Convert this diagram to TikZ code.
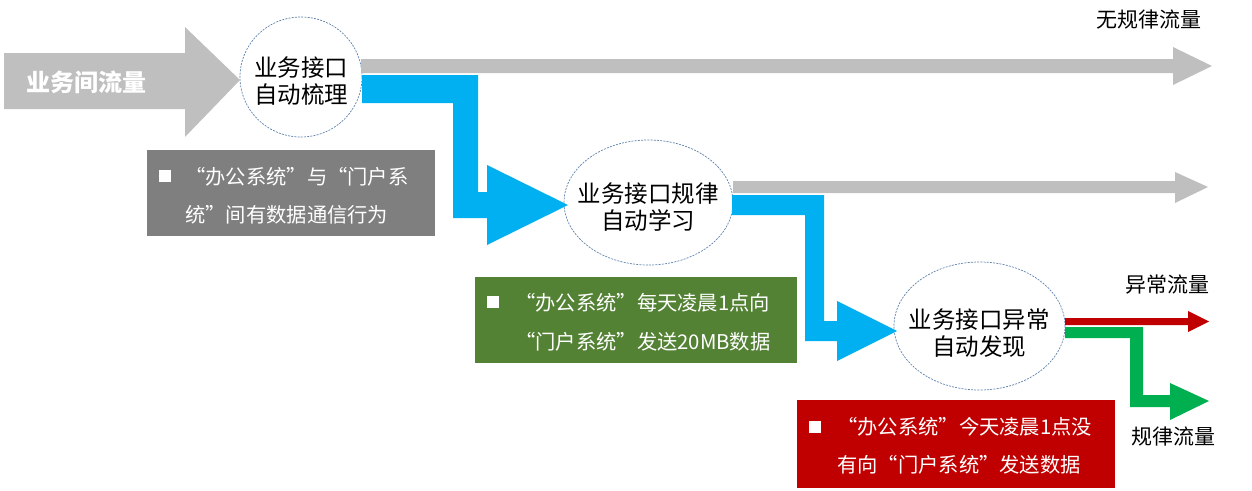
\documentclass[tikz,border=0pt]{standalone}
\usepackage{fontspec}
\setmainfont{Noto Sans CJK SC}
\usetikzlibrary{shapes.geometric}
\definecolor{flowgray}{HTML}{BFBFBF}
\definecolor{flowblue}{HTML}{00B0F0}
\definecolor{flowred}{HTML}{C00000}
\definecolor{flowgreen}{HTML}{00B050}
\definecolor{boxgray}{HTML}{7F7F7F}
\definecolor{boxgreen}{HTML}{548235}
\definecolor{boxred}{HTML}{C00000}
\definecolor{ellline}{HTML}{5F82AC}
\begin{document}
\begin{tikzpicture}[x=1pt,y=-1pt,
  ellnode/.style={ellipse, draw=ellline, dash pattern=on 2pt off 1.2pt, line width=0.7pt, fill=white, inner sep=0pt},
  elltext/.style={align=center, font=\fontsize{23.5}{27}\selectfont, text=black, inner sep=0pt},
  infobox/.style={draw=none, inner sep=0pt},
  bulletsq/.style={fill=white, minimum width=12pt, minimum height=12pt, inner sep=0pt},
  boxtext/.style={anchor=west, text=white, font=\fontsize{20.3}{22}\selectfont, inner sep=0pt},
  outlabel/.style={text=black, font=\fontsize{21}{24}\selectfont, inner sep=0pt}
]
\useasboundingbox (0,0) rectangle (1252,490);

% ellipses
\node[ellnode, minimum width=122pt, minimum height=120pt] (e1) at (301,77) {};
\node[ellnode, minimum width=169pt, minimum height=125pt] (e2) at (648.5,202.5) {};
\node[ellnode, minimum width=171pt, minimum height=128pt] (e3) at (979.5,326) {};

% big input arrow
\fill[flowgray] (4,53) -- (185,53) -- (185,27) -- (240,80) -- (185,137) -- (185,109) -- (4,109) -- cycle;
\node[text=white, font=\bfseries\fontsize{24}{28}\selectfont, inner sep=0pt] (in) at (87,82) {业务间流量};

% gray arrows
\fill[flowgray] (361,59) -- (1173,59) -- (1173,47) -- (1212,66) -- (1173,85) -- (1173,73) -- (361,73) -- cycle;
\fill[flowgray] (733,181) -- (1175,181) -- (1175,172) -- (1208,187) -- (1175,203) -- (1175,193) -- (733,193) -- cycle;

% blue arrows
\fill[flowblue] (362,75) -- (478,75) -- (478,192) -- (487,192) -- (487,165) -- (568,205) -- (487,245) -- (487,218) -- (453,218) -- (453,103) -- (362,103) -- cycle;
\fill[flowblue] (732,195) -- (824,195) -- (824,321) -- (837,321) -- (837,301) -- (897,331) -- (837,361) -- (837,341) -- (805,341) -- (805,215) -- (732,215) -- cycle;

% red and green arrows
\fill[flowred] (1065,318) -- (1188,318) -- (1188,311) -- (1209,321.5) -- (1188,332) -- (1188,325) -- (1065,325) -- cycle;
\fill[flowgreen] (1065,327) -- (1143,327) -- (1143,395) -- (1170,395) -- (1170,383) -- (1209,401) -- (1170,420) -- (1170,407) -- (1130,407) -- (1130,338) -- (1065,338) -- cycle;

% ellipse texts
\node[elltext] (t1) at (301,81) {业务接口\\自动梳理};
\node[elltext] (t2) at (648,207) {业务接口规律\\自动学习};
\node[elltext] (t3) at (979,333) {业务接口异常\\自动发现};

% info boxes
\node[infobox, fill=boxgray, minimum width=288pt, minimum height=86pt] (b1) at (291,193) {};
\node[bulletsq] (s1) at (165,176) {};
\node[boxtext] (b1a) at (185,177) {“办公系统”与“门户系};
\node[boxtext] (b1b) at (185,215) {统”间有数据通信行为};

\node[infobox, fill=boxgreen, minimum width=322pt, minimum height=86pt] (b2) at (636,320) {};
\node[bulletsq] (s2) at (493,302) {};
\node[boxtext] (b2a) at (515,303) {“办公系统”每天凌晨1点向};
\node[boxtext] (b2b) at (515,342) {“门户系统”发送20MB数据};

\node[infobox, fill=boxred, minimum width=318pt, minimum height=88pt] (b3) at (956,444) {};
\node[bulletsq] (s3) at (815,427) {};
\node[boxtext] (b3a) at (837,427) {“办公系统”今天凌晨1点没};
\node[boxtext] (b3b) at (837,465) {有向“门户系统”发送数据};

% output labels
\node[outlabel] (l1) at (1149,20) {无规律流量};
\node[outlabel] (l2) at (1167,285) {异常流量};
\node[outlabel] (l3) at (1173,437) {规律流量};
\end{tikzpicture}
\end{document}
